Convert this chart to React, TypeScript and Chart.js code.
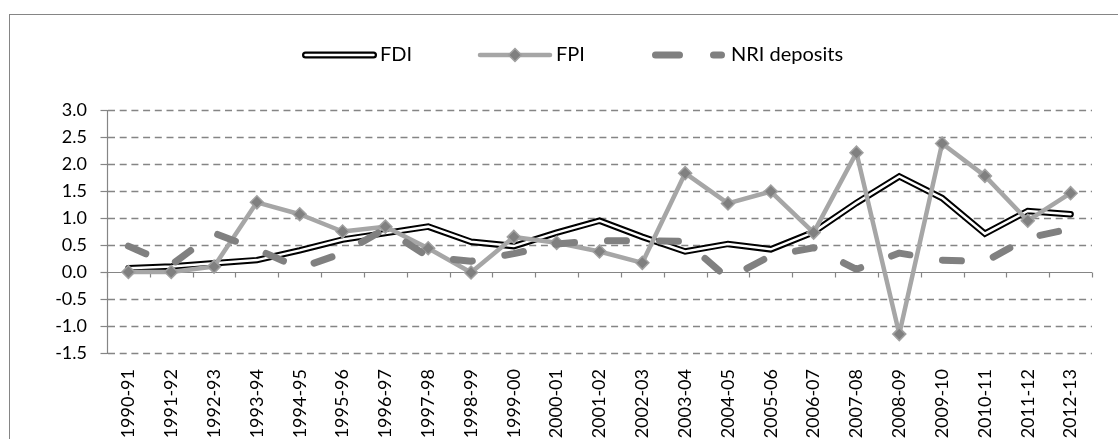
import React, { useEffect, useRef } from "react";
import { Chart, registerables } from "chart.js";

Chart.register(...registerables);

const categories = [
  "1990-91", "1991-92", "1992-93", "1993-94", "1994-95", "1995-96", "1996-97", "1997-98",
  "1998-99", "1999-00", "2000-01", "2001-02", "2002-03", "2003-04", "2004-05", "2005-06",
  "2006-07", "2007-08", "2008-09", "2009-10", "2010-11", "2011-12", "2012-13",
];

const fdi = [0.07, 0.1, 0.16, 0.22, 0.4, 0.6, 0.72, 0.84, 0.56, 0.48, 0.73, 0.95, 0.65, 0.38, 0.52, 0.42, 0.74, 1.28, 1.77, 1.37, 0.71, 1.13, 1.07];
const fpi = [0.0, 0.0, 0.1, 1.29, 1.07, 0.75, 0.84, 0.44, -0.01, 0.65, 0.54, 0.38, 0.17, 1.83, 1.27, 1.49, 0.73, 2.21, -1.15, 2.38, 1.78, 0.95, 1.46];
const nri = [0.48, 0.13, 0.72, 0.42, 0.07, 0.35, 0.8, 0.28, 0.2, 0.34, 0.52, 0.58, 0.58, 0.57, -0.12, 0.3, 0.45, 0.05, 0.35, 0.22, 0.19, 0.63, 0.8];

const yMin = -1.5;
const yMax = 3.0;
const yStep = 0.5;

const legendLabels = ["FDI", "FPI", "NRI deposits"];

const GRID = "#858585";
const FONT = "Lato";

const framePlugin = {
  id: "frame",
  beforeDraw(chart: any) {
    const ctx = chart.ctx;
    ctx.save();
    ctx.fillStyle = "#ffffff";
    ctx.fillRect(0, 0, chart.width, chart.height);
    ctx.strokeStyle = GRID;
    ctx.lineWidth = 1;
    ctx.strokeRect(9.5, 14.5, chart.width + 40, chart.height + 40);
    ctx.restore();
  },
  beforeDatasetsDraw(chart: any) {
    const { ctx, chartArea: a, scales } = chart;
    const y = scales.y;
    const n = categories.length;
    ctx.save();
    ctx.strokeStyle = GRID;
    ctx.lineWidth = 1.3;
    ctx.setLineDash([7, 4.7]);
    y.ticks.forEach((t: any) => {
      if (Math.abs(t.value) < 1e-9) return;
      const py = Math.round(y.getPixelForValue(t.value)) + 0.5;
      ctx.beginPath();
      ctx.moveTo(a.left + 1, py);
      ctx.lineTo(a.right, py);
      ctx.stroke();
    });
    ctx.setLineDash([]);
    ctx.lineWidth = 1.2;
    const ax = Math.round(a.left) + 0.5;
    ctx.beginPath();
    ctx.moveTo(ax, Math.round(a.top));
    ctx.lineTo(ax, Math.round(a.bottom) + 1);
    ctx.stroke();
    y.ticks.forEach((t: any) => {
      const py = Math.round(y.getPixelForValue(t.value)) + 0.5;
      ctx.beginPath();
      ctx.moveTo(ax - 7, py);
      ctx.lineTo(ax, py);
      ctx.stroke();
    });
    const y0 = Math.round(y.getPixelForValue(0)) + 0.5;
    ctx.beginPath();
    ctx.moveTo(a.left, y0);
    ctx.lineTo(a.right, y0);
    ctx.stroke();
    const w = (a.right - a.left) / n;
    for (let i = 0; i <= n; i++) {
      const bx = Math.round(a.left + i * w) + 0.5;
      ctx.beginPath();
      ctx.moveTo(bx, y0);
      ctx.lineTo(bx, y0 + 5);
      ctx.stroke();
    }
    ctx.restore();
  },
  afterDraw(chart: any) {
    const ctx = chart.ctx;
    const ly = 55;
    ctx.save();
    ctx.lineCap = "round";
    ctx.strokeStyle = "#000000";
    ctx.lineWidth = 7;
    ctx.beginPath();
    ctx.moveTo(305.5, ly);
    ctx.lineTo(373.5, ly);
    ctx.stroke();
    ctx.strokeStyle = "#ffffff";
    ctx.lineWidth = 2.5;
    ctx.beginPath();
    ctx.moveTo(305.5, ly);
    ctx.lineTo(373.5, ly);
    ctx.stroke();
    ctx.strokeStyle = "#A6A6A6";
    ctx.lineWidth = 4.5;
    ctx.beginPath();
    ctx.moveTo(480, ly);
    ctx.lineTo(550, ly);
    ctx.stroke();
    const r = 6.5;
    ctx.fillStyle = "#808080";
    ctx.strokeStyle = "#A0A0A0";
    ctx.lineWidth = 1.5;
    ctx.beginPath();
    ctx.moveTo(515, ly - r);
    ctx.lineTo(515 + r, ly);
    ctx.lineTo(515, ly + r);
    ctx.lineTo(515 - r, ly);
    ctx.closePath();
    ctx.fill();
    ctx.stroke();
    ctx.strokeStyle = "#808080";
    ctx.lineWidth = 7;
    ctx.setLineDash([24, 34]);
    ctx.beginPath();
    ctx.moveTo(655.5, ly);
    ctx.lineTo(721.5, ly);
    ctx.stroke();
    ctx.setLineDash([]);
    ctx.fillStyle = "#000000";
    ctx.font = `20px ${FONT}`;
    ctx.textBaseline = "middle";
    ctx.textAlign = "left";
    ctx.fillText(legendLabels[0], 380, ly);
    ctx.fillText(legendLabels[1], 556, ly);
    ctx.fillText(legendLabels[2], 731, ly);
    ctx.restore();
  },
};

export default function App() {
  const ref = useRef<HTMLCanvasElement | null>(null);

  useEffect(() => {
    if (!ref.current) return;
    const chart = new Chart(ref.current, {
      type: "line",
      data: {
        labels: categories,
        datasets: [
          {
            label: legendLabels[2],
            data: nri,
            borderColor: "#808080",
            borderWidth: 7,
            borderDash: [19, 33],
            borderCapStyle: "round",
            borderJoinStyle: "round",
            pointRadius: 0,
            tension: 0,
            fill: false,
            order: 0,
          },
          {
            label: legendLabels[1],
            data: fpi,
            borderColor: "#A6A6A6",
            borderWidth: 4.5,
            borderJoinStyle: "round",
            pointStyle: "rectRot",
            pointRadius: 6.5,
            pointBackgroundColor: "#808080",
            pointBorderColor: "#A0A0A0",
            pointBorderWidth: 1.5,
            tension: 0,
            fill: false,
            order: 1,
          },
          {
            label: legendLabels[0],
            data: fdi,
            borderColor: "#ffffff",
            borderWidth: 2.5,
            borderCapStyle: "round",
            borderJoinStyle: "miter",
            pointRadius: 0,
            tension: 0,
            fill: false,
            order: 2,
          },
          {
            label: legendLabels[0] + " outline",
            data: fdi,
            borderColor: "#000000",
            borderWidth: 6.5,
            borderCapStyle: "round",
            borderJoinStyle: "miter",
            pointRadius: 0,
            tension: 0,
            fill: false,
            order: 3,
          },
        ],
      },
      options: {
        responsive: false,
        animation: false,
        devicePixelRatio: 1,
        events: [],
        layout: { padding: { top: 110, right: 26, left: 0, bottom: 0 } },
        plugins: {
          legend: { display: false },
          tooltip: { enabled: false },
          title: { display: false },
        },
        scales: {
          x: {
            type: "category",
            offset: true,
            grid: { display: false, drawTicks: false },
            border: { display: false },
            ticks: {
              autoSkip: false,
              minRotation: 90,
              maxRotation: 90,
              padding: 16,
              color: "#000000",
              font: { family: FONT, size: 18 },
            },
            afterFit: (s: any) => {
              s.height = 86;
            },
          },
          y: {
            min: yMin,
            max: yMax,
            grid: { display: false, drawTicks: false },
            border: { display: false },
            ticks: {
              stepSize: yStep,
              padding: 20,
              color: "#000000",
              font: { family: FONT, size: 18 },
              callback: (v: any) => Number(v).toFixed(1),
            },
            afterFit: (s: any) => {
              s.width = 107;
            },
          },
        },
      } as any,
      plugins: [framePlugin],
    });
    return () => chart.destroy();
  }, []);

  return (
    <canvas
      ref={ref}
      width={1118}
      height={439}
      style={{ position: "absolute", left: 0, top: 0, display: "block", width: 1118, height: 439 }}
    />
  );
}
